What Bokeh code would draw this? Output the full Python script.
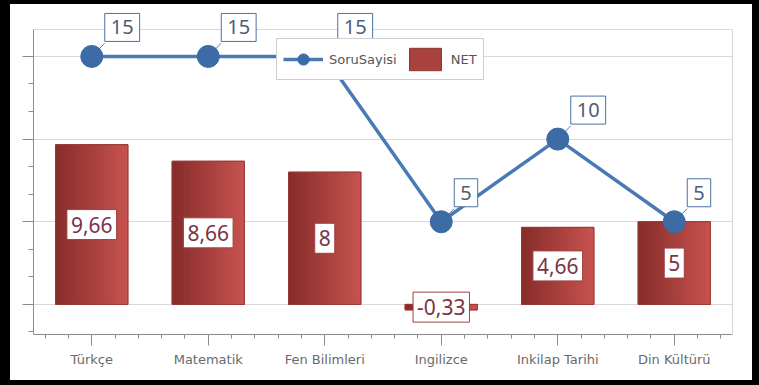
from bokeh.plotting import figure
from bokeh.models import ColumnDataSource, FixedTicker, Legend, LegendItem, LinearAxis
from bokeh.transform import dodge
from bokeh.core.properties import value
from bokeh.embed import file_html
from bokeh.resources import INLINE

categories = ["Türkçe", "Matematik", "Fen Bilimleri", "Ingilizce", "Inkilap Tarihi", "Din Kültürü"]
soru_sayisi = [15, 15, 15, 5, 10, 5]
net = [9.66, 8.66, 8, -0.33, 4.66, 5]
y_major_ticks = [0, 5, 10, 15]
y_minor_step = 5 / 3

xs = list(range(len(categories)))


def fmt(v):
    return ("%g" % v).replace(".", ",")


src = ColumnDataSource(dict(
    x=xs,
    net=net,
    half=[v / 2 for v in net],
    net_label=[fmt(v) for v in net],
    soru=soru_sayisi,
    soru_label=[str(v) for v in soru_sayisi],
))

y_lo, y_top = -1.82, 16.63       # visible plot box
y_hi = 17.9                      # head-room so the value boxes are not clipped

p = figure(width=742, height=376, x_range=(-0.5, 5.5), y_range=(y_lo, y_hi),
           output_backend="svg", toolbar_location=None,
           min_border_left=23, min_border_right=20, min_border_top=4, min_border_bottom=46)
p.styles = {"margin": "4px 7px 5px 10px", "box-shadow": "0 0 0 10px black"}
p.background_fill_color = "white"
p.border_fill_color = "white"
p.outline_line_color = None

# axes
y_minor = [k * y_minor_step for k in range(-1, 10) if k % 3 != 0]
p.yaxis.ticker = FixedTicker(ticks=y_major_ticks, minor_ticks=y_minor)
p.yaxis.bounds = (y_lo, y_top)
p.yaxis.major_label_overrides = {t: "" for t in y_major_ticks}
p.yaxis.major_label_text_font_size = "0px"
p.yaxis.major_tick_out = 11
p.yaxis.major_tick_in = 0
p.yaxis.minor_tick_out = 5
p.yaxis.minor_tick_in = 0

right_ax = LinearAxis(bounds=(y_lo, y_top), ticker=FixedTicker(ticks=[]),
                      major_tick_out=0, major_tick_in=0, minor_tick_out=0, minor_tick_in=0,
                      major_label_text_font_size="0px", axis_line_color="#d4d4d4")
p.add_layout(right_ax, "right")

x_minor = [c + d for c in xs for d in (-0.4, -0.2, 0.2, 0.4)]
p.xaxis.ticker = FixedTicker(ticks=xs, minor_ticks=x_minor)
p.xaxis.major_label_overrides = {i: c for i, c in zip(xs, categories)}
p.xaxis.major_tick_out = 11
p.xaxis.major_tick_in = 0
p.xaxis.minor_tick_out = 4
p.xaxis.minor_tick_in = 0
p.xaxis.major_label_standoff = 6
p.xaxis.major_label_text_font = "DejaVu Sans"
p.xaxis.major_label_text_font_size = "13px"
p.xaxis.major_label_text_color = "#6a6a6a"

for ax in (p.xaxis[0], p.yaxis[0]):
    ax.axis_line_color = "#8c8c8c"
    ax.major_tick_line_color = "#8c8c8c"
    ax.minor_tick_line_color = "#8c8c8c"

p.xgrid.visible = False
p.ygrid.ticker = FixedTicker(ticks=y_major_ticks + [y_top])
p.ygrid.grid_line_color = "#d9d9d9"

# bars (base + gradient strips + outline)
bar_w = 0.62
base_bar = p.vbar(x="x", top="net", bottom=0, width=bar_w, source=src,
                  fill_color="#A9423F", line_color="#8E3634")
n = 24
c0 = (0x86, 0x2C, 0x2A)
c1 = (0xC6, 0x53, 0x4F)
for k in range(n):
    t = k / (n - 1)
    col = "#%02x%02x%02x" % tuple(int(round(a + (b - a) * t)) for a, b in zip(c0, c1))
    off = -bar_w / 2 + (k + 0.5) * bar_w / n
    p.vbar(x=dodge("x", off, range=p.x_range), top="net", bottom=0, width=bar_w / n * 1.08,
           source=src, fill_color=col, line_color=None)
p.vbar(x="x", top="net", bottom=0, width=bar_w, source=src,
       fill_alpha=0, line_color="#9A3A37", line_width=1)

p.text(x="x", y="half", text="net_label", source=src, anchor="center",
       text_font=value("Noto Sans"), text_font_size="21px", text_color="#7A3446",
       background_fill_color="white", border_line_color="#A04040", border_line_width=1,
       padding=dict(left=4, right=4, top=7, bottom=7))

# line series
p.segment(x0="x", y0="soru", x1=dodge("x", 0.11, range=p.x_range),
          y1=dodge("soru", 0.79, range=p.y_range), source=src,
          line_color="#4F7DB5", line_width=1)
line_r = p.line(x="x", y="soru", source=src, line_color="#4A7AB5", line_width=3.5)
circ_r = p.scatter(x="x", y="soru", source=src, size=22, fill_color="#3C6BA6",
                   line_color="#3C6BA6")

p.text(x="x", y="soru", text="soru_label", source=src, anchor="bottom_left",
       x_offset=13, y_offset=-15,
       text_font=value("Noto Sans"), text_font_size="20px", text_color="#4E5E78",
       background_fill_color="white", border_line_color="#4A72A0", border_line_width=1,
       padding=dict(left=6, right=6, top=7, bottom=7))

legend = Legend(items=[LegendItem(label="SoruSayisi", renderers=[line_r, circ_r]),
                       LegendItem(label="NET", renderers=[base_bar])],
                orientation="horizontal", location=(243, 254),
                glyph_width=40, glyph_height=28,
                label_text_font="DejaVu Sans", label_text_font_size="13px",
                label_text_color="#555555",
                border_line_color="#a0a0a0", background_fill_color="white",
                background_fill_alpha=1, padding=6, spacing=8, label_standoff=6, margin=0)
p.add_layout(legend)

open("out.html", "w").write(file_html(p, INLINE))
